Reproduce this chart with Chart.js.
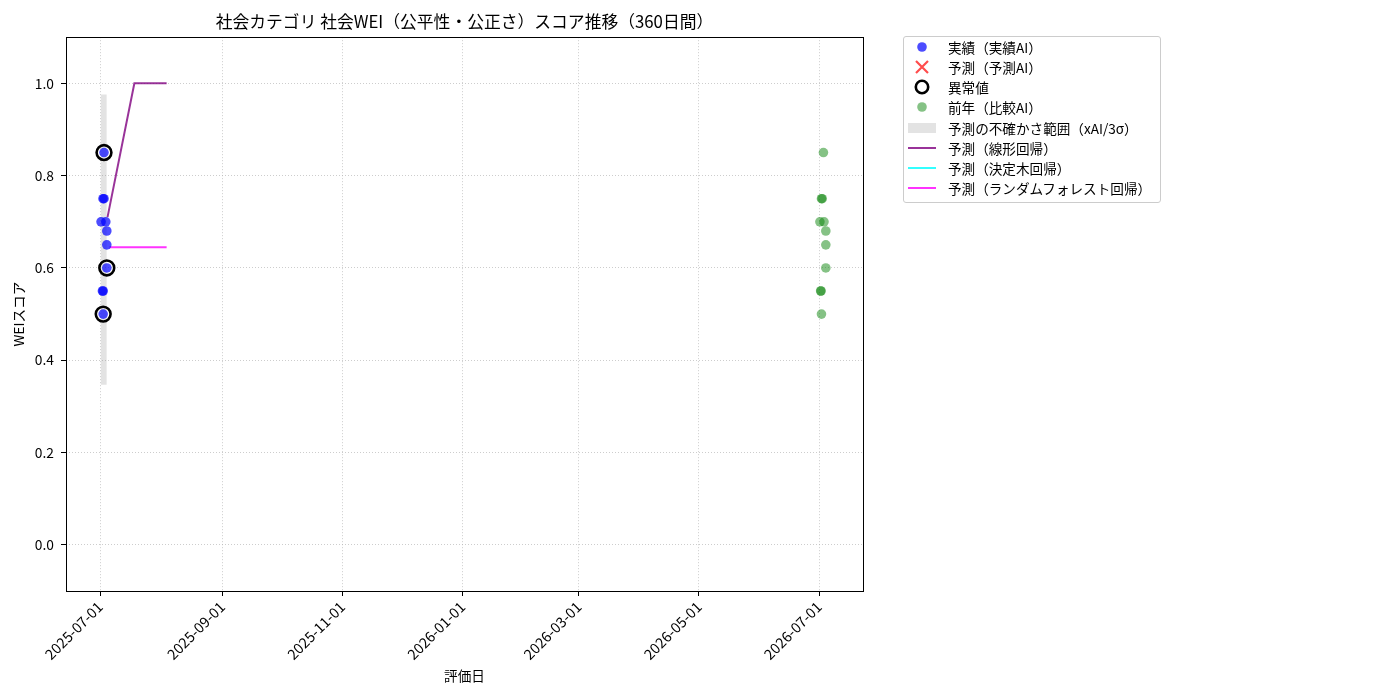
<!DOCTYPE html>
<html>
<head>
<meta charset="utf-8">
<script src="https://cdn.jsdelivr.net/npm/chart.js@4/dist/chart.umd.min.js"></script>
<style>
  body { margin: 0; background: #fff; font-family: 'Noto Sans CJK JP', 'DejaVu Sans', sans-serif; }
  #wrap { position: absolute; left: 0; top: 0; width: 928px; height: 700px; }
  #legend { position: absolute; left: 903px; top: 36px; width: 256px; border: 1px solid #ccc; border-radius: 3px; padding: 0 0 4px 0; background: #fff; }
  .row { height: 20.15px; display: flex; align-items: center; font-size: 13.6px; color: #000; white-space: nowrap; }
  .mk { width: 36px; height: 20px; margin-right: 8px; display: flex; align-items: center; justify-content: center; }
</style>
</head>
<body>
<div id="wrap"><canvas id="chart"></canvas></div>
<div id="legend"></div>
<script>
var chartTitle = "社会カテゴリ 社会WEI（公平性・公正さ）スコア推移（360日間）";

// 実績
var actualDates = ["2025-07-03T00:00Z", "2025-07-02T12:00Z", "2025-07-03T00:00Z", "2025-07-01T12:00Z", "2025-07-03T22:00Z",
                   "2025-07-04T10:00Z", "2025-07-04T10:00Z", "2025-07-04T10:00Z", "2025-07-02T05:00Z", "2025-07-02T14:00Z", "2025-07-02T14:00Z"];
var actualScores = [0.85, 0.75, 0.75, 0.70, 0.70, 0.68, 0.65, 0.60, 0.55, 0.55, 0.50];

// 異常値
var anomalyDates = ["2025-07-03T00:00Z", "2025-07-04T10:00Z", "2025-07-02T14:00Z"];
var anomalyScores = [0.85, 0.60, 0.50];

// 予測AI (no points shown)
var predDates = [];
var predScores = [];

// 前年
var prevDates = ["2026-07-03T05:00Z", "2026-07-02T05:00Z", "2026-07-02T14:00Z", "2026-07-01T10:00Z", "2026-07-03T12:00Z",
                 "2026-07-04T10:00Z", "2026-07-04T10:00Z", "2026-07-04T10:00Z", "2026-07-01T19:00Z", "2026-07-02T00:00Z", "2026-07-02T05:00Z"];
var prevScores = [0.85, 0.75, 0.75, 0.70, 0.70, 0.68, 0.65, 0.60, 0.55, 0.55, 0.50];

// 不確かさ範囲
var bandDates = ["2025-07-01T08:00Z", "2025-07-04T10:00Z"];
var bandUpper = [0.976, 0.976];
var bandLower = [0.347, 0.347];

// 回帰予測 (決定木 is not visible in the picture)
var linDates = ["2025-07-04T19:00Z", "2025-07-18T10:00Z", "2025-08-03T19:00Z"];
var linScores = [0.71, 1.0, 1.0];
var dtDates = [];
var dtScores = [];
var rfDates = ["2025-07-05T19:00Z", "2025-08-03T19:00Z"];
var rfScores = [0.645, 0.645];

var xTickDates = ["2025-07-01", "2025-09-01", "2025-11-01", "2026-01-01", "2026-03-01", "2026-05-01", "2026-07-01"];
var yTicks = [0.0, 0.2, 0.4, 0.6, 0.8, 1.0];
var xMin = "2025-06-13T17:00Z";
var xMax = "2026-07-23T07:00Z";

function pts(dates, vals) {
  var out = [];
  for (var i = 0; i < dates.length; i++) {
    out.push({x: Date.parse(dates[i]), y: vals[i]});
  }
  return out;
}

Chart.defaults.font.family = "'Noto Sans CJK JP', 'DejaVu Sans', sans-serif";
Chart.defaults.color = "#000";

var frame = {
  id: "frame",
  afterDatasetsDraw: function(chart) {
    var a = chart.chartArea, ctx = chart.ctx;
    ctx.save();
    ctx.strokeStyle = "#000";
    ctx.lineWidth = 1;
    ctx.strokeRect(Math.round(a.left) + 0.5, Math.round(a.top) + 0.5, Math.round(a.right - a.left), Math.round(a.bottom - a.top));
    ctx.restore();
  }
};

var gridOpts = {
  color: "rgba(176,176,176,0.8)",
  lineWidth: 0.8,
  drawTicks: true,
  tickLength: 5,
  tickColor: "#000",
  tickWidth: 1,
  tickBorderDash: []
};
// in v4 the dash of grid lines sits under border
var borderOpts = { display: false, dash: [1, 2] };

new Chart(document.getElementById("chart"), {
  type: "scatter",
  data: {
    datasets: [
      { label: "異常値", data: pts(anomalyDates, anomalyScores), pointRadius: 7.4, pointHoverRadius: 7.4, borderWidth: 2.6,
        borderColor: "#000", backgroundColor: "rgba(0,0,0,0)", order: 0 },
      { label: "予測（予測AI）", data: pts(predDates, predScores), pointStyle: "crossRot", pointRadius: 7,
        borderColor: "rgba(255,0,0,0.7)", borderWidth: 2, order: 1 },
      { label: "実績（実績AI）", data: pts(actualDates, actualScores), pointRadius: 4.8, borderWidth: 0,
        backgroundColor: "rgba(0,0,255,0.7)", order: 2 },
      { label: "前年（比較AI）", data: pts(prevDates, prevScores), pointRadius: 4.8, borderWidth: 0,
        backgroundColor: "rgba(0,128,0,0.48)", order: 3 },
      { label: "予測（ランダムフォレスト回帰）", data: pts(rfDates, rfScores), showLine: true, pointRadius: 0,
        borderColor: "rgba(255,0,255,0.8)", borderWidth: 2, order: 4 },
      { label: "予測（決定木回帰）", data: pts(dtDates, dtScores), showLine: true, pointRadius: 0,
        borderColor: "rgba(0,255,255,0.8)", borderWidth: 2, order: 5 },
      { label: "予測（線形回帰）", data: pts(linDates, linScores), showLine: true, pointRadius: 0,
        borderColor: "rgba(128,0,128,0.8)", borderWidth: 2, order: 6 },
      { label: "upper", data: pts(bandDates, bandUpper), showLine: true, pointRadius: 0, borderWidth: 0,
        borderColor: "rgba(0,0,0,0)", backgroundColor: "rgba(128,128,128,0.22)", fill: "+1", order: 7 },
      { label: "lower", data: pts(bandDates, bandLower), showLine: true, pointRadius: 0, borderWidth: 0,
        borderColor: "rgba(0,0,0,0)", fill: false, order: 8 }
    ]
  },
  options: {
    responsive: true,
    maintainAspectRatio: false,
    animation: false,
    layout: { padding: { left: 0, right: 65, top: 0, bottom: 0 } },
    plugins: {
      legend: { display: false },
      tooltip: { enabled: false },
      title: {
        display: true, text: chartTitle, fullSize: false, color: "#000",
        font: { size: 16.8, weight: "normal" }, padding: { top: 12, bottom: 5 }
      }
    },
    scales: {
      x: {
        type: "linear",
        min: Date.parse(xMin),
        max: Date.parse(xMax),
        border: borderOpts,
        grid: gridOpts,
        afterBuildTicks: function(scale) {
          scale.ticks = xTickDates.map(function(d) { return {value: Date.parse(d)}; });
        },
        afterFit: function(scale) { scale.height = 109; },
        ticks: {
          autoSkip: false, maxRotation: 45, minRotation: 45, padding: 2,
          font: { size: 14.5 },
          callback: function(v) { return new Date(v).toISOString().slice(0, 10); }
        },
        title: { display: true, text: "評価日", font: { size: 13.6 }, padding: { top: 4, bottom: 16 } }
      },
      y: {
        min: -0.1,
        max: 1.1,
        border: borderOpts,
        grid: gridOpts,
        afterBuildTicks: function(scale) {
          scale.ticks = yTicks.map(function(v) { return {value: v}; });
        },
        afterFit: function(scale) { scale.width = 66; },
        ticks: {
          padding: 7, font: { size: 13.8 },
          callback: function(v) { return v.toFixed(1); }
        },
        title: { display: true, text: "WEIスコア", font: { size: 13.6 }, padding: { top: 11, bottom: 0 } }
      }
    }
  },
  plugins: [frame]
});

// legend
var legendItems = [
  ["dot", "rgba(0,0,255,0.7)", "実績（実績AI）"],
  ["cross", "rgba(255,0,0,0.7)", "予測（予測AI）"],
  ["ring", "#000", "異常値"],
  ["dot", "rgba(0,128,0,0.48)", "前年（比較AI）"],
  ["rect", "rgba(128,128,128,0.22)", "予測の不確かさ範囲（xAI/3σ）"],
  ["line", "rgba(128,0,128,0.8)", "予測（線形回帰）"],
  ["line", "rgba(0,255,255,0.8)", "予測（決定木回帰）"],
  ["line", "rgba(255,0,255,0.8)", "予測（ランダムフォレスト回帰）"]
];
var lg = document.getElementById("legend");
legendItems.forEach(function(it) {
  var svg = "";
  if (it[0] == "dot") svg = '<circle cx="15" cy="10" r="4.8" fill="' + it[1] + '"/>';
  if (it[0] == "cross") svg = '<path d="M9 4 L21 16 M21 4 L9 16" stroke="' + it[1] + '" stroke-width="2.2"/>';
  if (it[0] == "ring") svg = '<circle cx="15" cy="10" r="6.2" fill="none" stroke="' + it[1] + '" stroke-width="2.6"/>';
  if (it[0] == "rect") svg = '<rect x="1" y="5" width="28" height="10" fill="' + it[1] + '"/>';
  if (it[0] == "line") svg = '<line x1="1" y1="10" x2="29" y2="10" stroke="' + it[1] + '" stroke-width="2"/>';
  var row = document.createElement("div");
  row.className = "row";
  row.innerHTML = '<span class="mk"><svg width="30" height="20">' + svg + '</svg></span><span>' + it[2] + '</span>';
  lg.appendChild(row);
});
</script>
</body>
</html>
